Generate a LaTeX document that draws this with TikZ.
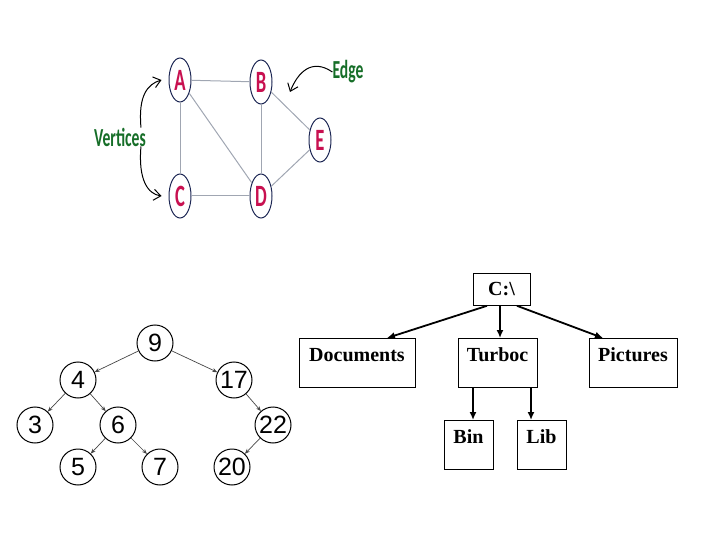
\documentclass[tikz,border=0pt]{standalone}
\usepackage{graphicx}
\usepackage{fontspec}
\setmainfont{Liberation Serif}
\newfontfamily\graphfont{Carlito}
\newfontfamily\treefont{Liberation Sans}
\usetikzlibrary{positioning,shapes.geometric,arrows.meta}
\definecolor{vred}{RGB}{200, 16, 80}
\definecolor{vgreen}{RGB}{22, 110, 40}
\definecolor{vnavy}{RGB}{30, 40, 85}
\definecolor{edgegray}{RGB}{160, 166, 178}
\newcommand{\squeeze}[1]{\scalebox{0.6}[1]{#1}}

\tikzset{
  vertex/.style={ellipse, draw=vnavy, line width=1pt, fill=white,
    minimum width=22pt, minimum height=44pt, inner sep=0pt, text=vred,
    font=\graphfont\bfseries\fontsize{31}{31}\selectfont},
  gedge/.style={draw=edgegray, line width=1pt},
  callout/.style={text=vgreen, inner sep=0pt,
    font=\graphfont\bfseries\fontsize{26}{26}\selectfont},
  pointer/.style={-{Straight Barb[length=7pt,width=11pt]}, line width=1pt},
  num/.style={circle, draw, line width=1pt, minimum size=36pt, inner sep=0pt,
    font=\treefont\fontsize{25}{25}\selectfont},
  child/.style={-{Stealth[length=5pt,width=4pt]}, draw={rgb,255:red,70;green,70;blue,70}, line width=0.7pt},
  folder/.style={draw, line width=0.8pt, anchor=north, inner sep=0pt,
    text height=23pt, text depth=26pt, font=\bfseries\fontsize{20}{20}\selectfont},
  sub/.style={-{Latex[length=8pt,width=7pt]}, line width=1.8pt}
}

\begin{document}
\begin{tikzpicture}[x=1pt, y=-1pt]
  \useasboundingbox (0, 0) rectangle (720, 540);
  % graph with vertices and edges
  \node[vertex] (A) at (180, 80) {\squeeze{A}};
  \node[vertex] (B) at (261, 82) {\squeeze{B}};
  \node[vertex] (C) at (180, 196) {\squeeze{C}};
  \node[vertex] (D) at (261, 196) {\squeeze{D}};
  \node[vertex] (E) at (320, 140) {\squeeze{E}};
  \draw[gedge] (A) to (B);
  \draw[gedge] (A) to (C);
  \draw[gedge] (A) to (D);
  \draw[gedge] (B) to (D);
  \draw[gedge] (B) to (E);
  \draw[gedge] (C) to (D);
  \draw[gedge] (D) to (E);
  \node[callout] (vert) at (120, 137) {\squeeze{Vertices}};
  \node[callout] (edge) at (348, 72) {\squeeze{Edge}};
  \coordinate (edgetip) at (290, 92);
  \draw[pointer] ([xshift=-5pt]vert.north east) .. controls (138, 95) and (148, 84) .. ([xshift=-7pt]A.west);
  \draw[pointer] ([xshift=-5pt]vert.south east) .. controls (138, 180) and (148, 194) .. ([xshift=-7pt]C.west);
  \draw[pointer] (edge.west) .. controls (312, 58) and (298, 72) .. (edgetip);
  % binary search tree
  \node[num] (n9) at (155, 343) {9};
  \node[num] (n4) at (78, 380) {4};
  \node[num] (n17) at (234, 380) {17};
  \node[num] (n3) at (35, 425) {3};
  \node[num] (n6) at (118, 425) {6};
  \node[num] (n22) at (273, 425) {22};
  \node[num] (n5) at (78, 467) {5};
  \node[num] (n7) at (160, 467) {7};
  \node[num] (n20) at (232, 467) {20};
  \draw[child] (n9) to (n4);
  \draw[child] (n9) to (n17);
  \draw[child] (n4) to (n3);
  \draw[child] (n4) to (n6);
  \draw[child] (n6) to (n5);
  \draw[child] (n6) to (n7);
  \draw[child] (n17) to (n22);
  \draw[child] (n22) to (n20);
  % directory tree
  \node[folder, minimum width=57pt, text height=22pt, text depth=10pt] (root) at (501.5, 273) {C:\textbackslash};
  \node[folder, minimum width=116pt] (docs) at (357, 338) {Documents};
  \node[folder, minimum width=79pt] (turboc) at (497.5, 338) {Turboc};
  \node[folder, minimum width=88pt] (pics) at (633, 338) {Pictures};
  \node[folder, minimum width=49pt] (bin) at (468.5, 420) {Bin};
  \node[folder, minimum width=49pt] (lib) at (541.5, 420) {Lib};
  \draw[sub] ([xshift=-14.5pt]root.south) to ([xshift=30pt]docs.north);
  \draw[sub] ([xshift=-1.5pt]root.south) to ([xshift=2.5pt]turboc.north);
  \draw[sub] ([xshift=15.5pt]root.south) to ([xshift=-30pt]pics.north);
  \draw[sub] ([xshift=-24.5pt]turboc.south) to ([xshift=4.5pt]bin.north);
  \draw[sub] ([xshift=33.5pt]turboc.south) to ([xshift=-10.5pt]lib.north);
\end{tikzpicture}
\end{document}
